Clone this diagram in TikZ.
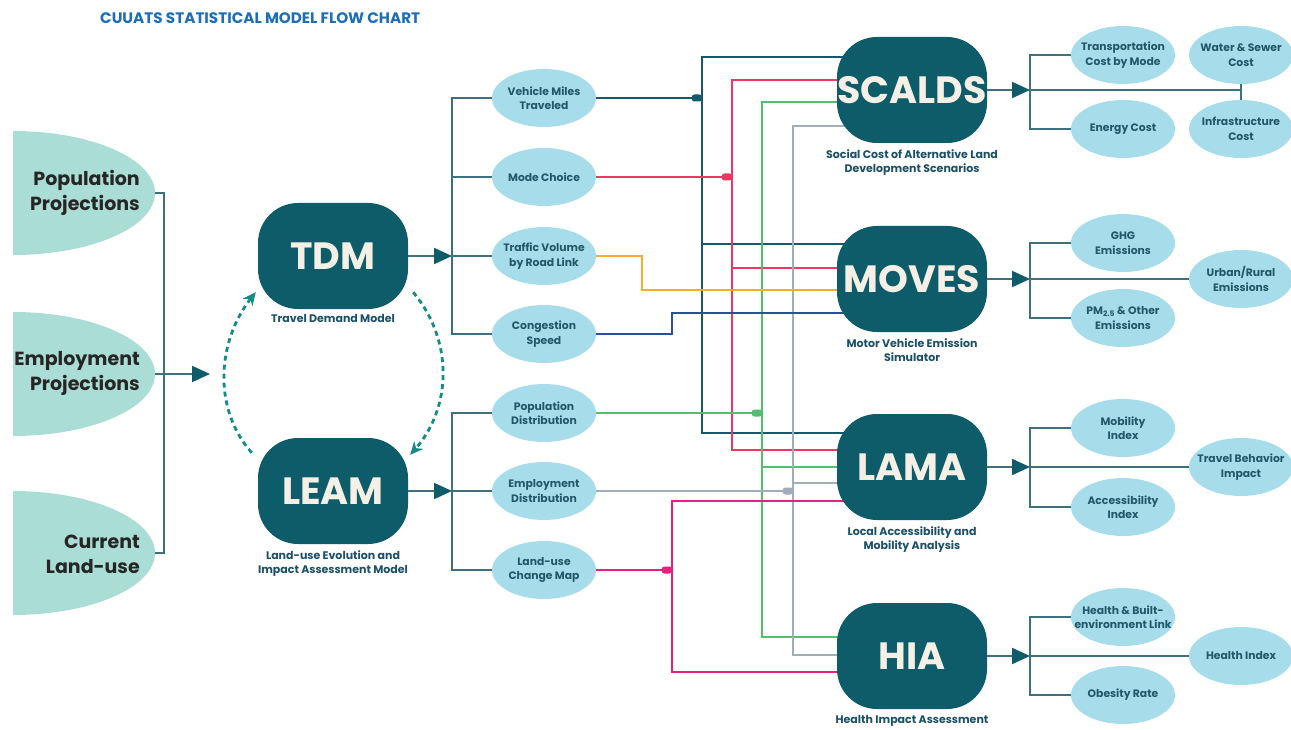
\documentclass[tikz,border=0pt]{standalone}
\usepackage{fontspec}
\setmainfont{Poppins}
\usetikzlibrary{positioning,arrows.meta,shapes.geometric,backgrounds}
\definecolor{boxteal}{RGB}{14,91,105}
\definecolor{boxtext}{RGB}{244,240,229}
\definecolor{captc}{RGB}{28,80,104}
\definecolor{leftfill}{RGB}{170,221,213}
\definecolor{outfill}{RGB}{167,221,235}
\definecolor{outtext}{RGB}{36,88,104}
\definecolor{brc}{RGB}{62,112,126}
\definecolor{vmtc}{RGB}{20,90,106}
\definecolor{modec}{RGB}{236,56,96}
\definecolor{popc}{RGB}{82,190,112}
\definecolor{empc}{RGB}{161,173,184}
\definecolor{tvolc}{RGB}{248,172,44}
\definecolor{congc}{RGB}{42,78,160}
\definecolor{lucc}{RGB}{230,32,130}
\definecolor{loopc}{RGB}{20,140,132}
\definecolor{titlec}{RGB}{30,110,182}

\begin{document}
\begin{tikzpicture}[x=1pt, y=-1pt,
  model/.style={rectangle, rounded corners=40pt, fill=boxteal, text=boxtext,
    minimum width=150pt, minimum height=106pt, inner sep=0pt,
    font=\bfseries\fontsize{38}{38}\selectfont},
  capt/.style={text=captc, align=center, inner sep=0pt,
    font=\bfseries\fontsize{11}{14}\selectfont},
  outp/.style={ellipse, fill=outfill, text=outtext, minimum width=104pt,
    minimum height=58pt, inner xsep=-16pt, inner ysep=0pt, outer sep=0pt,
    align=center, font=\bfseries\fontsize{10.8}{14.5}\selectfont},
  inshape/.style={ellipse, fill=leftfill, minimum width=284pt,
    minimum height=124pt, inner sep=0pt, outer sep=0pt},
  intext/.style={anchor=east, align=right, text={black!85},
    font=\bfseries\fontsize{19}{25}\selectfont, inner sep=0pt},
  brline/.style={draw=brc, line width=2pt},
  outarrow/.style={-{Triangle[length=18pt,width=16pt,color=boxteal]}},
  conn/.style={line width=2.9pt},
  jdot/.style={rectangle, rounded corners=2.5pt, minimum width=10pt,
    minimum height=7pt, inner sep=0pt, anchor=east},
  loopline/.style={draw=loopc, line width=2.8pt, dash pattern=on 5pt off 4pt,
    -{Stealth[length=13pt,width=12pt]}}
]
\useasboundingbox (0,0) rectangle (1291,730);
\node[anchor=west, text=titlec, inner sep=0pt,
  font=\bfseries\fontsize{15.2}{15.2}\selectfont] (title) at (100,18)
  {CUUATS STATISTICAL MODEL FLOW CHART};

% inputs (half ellipses cut at the left)
\begin{scope}
\clip (13,100) rectangle (200,650);
\foreach \n/\y in {popP/193, empP/374, curP/553}
  \node[inshape] (\n) at (13,\y) {};
\end{scope}
\node[intext] (popT) at (140,193) {Population\\Projections};
\node[intext] (empT) at (140,373) {Employment\\Projections};
\node[intext] (curT) at (140,554) {Current\\Land-use};
\coordinate (leftbr) at (164,374);
\coordinate (leftarr) at (210,374);
\draw[brline] (popP.east) -| (leftbr) |- (curP.east);
\draw[brline, outarrow] (empP.east) -- (leftarr);

% TDM / LEAM
\node[model] (tdm) at (333,256) {TDM};
\node[capt, below=5pt of tdm] (tdmcap) {Travel Demand Model};
\node[model] (leam) at (333,491) {LEAM};
\node[capt, below=6pt of leam] (leamcap) {Land-use Evolution and\\Impact Assessment Model};
\draw[loopline] ([xshift=-6pt,yshift=-15pt]leam.north west)
  .. controls +(-40,-45) and +(-38,48) .. ([xshift=-2pt,yshift=17pt]tdm.south west);
\draw[loopline] ([xshift=5pt,yshift=17pt]tdm.south east)
  .. controls +(40,48) and +(42,-48) .. ([xshift=2pt,yshift=-17pt]leam.north east);

% model outputs
\node[outp] (vmt) at (544,98) {Vehicle Miles\\Traveled};
\node[outp] (mode) at (544,177) {Mode Choice};
\node[outp] (tvol) at (544,256) {Traffic Volume\\by Road Link};
\node[outp] (cong) at (544,334) {Congestion\\Speed};
\node[outp] (popd) at (544,413) {Population\\Distribution};
\node[outp] (empd) at (544,491) {Employment\\Distribution};
\node[outp] (luc) at (544,570) {Land-use\\Change Map};
\coordinate (tdmbr) at (452,256);
\coordinate (leambr) at (452,491);
\draw[brline, outarrow] (tdm.east) -- (tdmbr);
\draw[brline] (vmt.west) -| (tdmbr) |- (cong.west);
\draw[brline] (mode.west) -- (mode.west -| tdmbr);
\draw[brline] (tvol.west) -- (tdmbr);
\draw[brline, outarrow] (leam.east) -- (leambr);
\draw[brline] (popd.west) -| (leambr) |- (luc.west);
\draw[brline] (empd.west) -- (leambr);

% scenario models
\node[model] (scalds) at (912,90) {SCALDS};
\node[capt, below=6pt of scalds] (scaldscap) {Social Cost of Alternative Land\\Development Scenarios};
\node[model] (moves) at (912,279) {MOVES};
\node[capt, below=6pt of moves] (movescap) {Motor Vehicle Emission\\Simulator};
\node[model] (lama) at (912,467) {LAMA};
\node[capt, below=6pt of lama] (lamacap) {Local Accessibility and\\Mobility Analysis};
\node[model] (hia) at (912,656) {HIA};
\node[capt, below=6pt of hia] (hiacap) {Health Impact Assessment};

% buses
\coordinate (bvmt) at (702,98);
\coordinate (bmode) at (732,177);
\coordinate (bpop) at (762,413);
\coordinate (bemp) at (793,491);
\coordinate (btvol) at (642,273);
\coordinate (bcong) at (672,323);
\coordinate (bluc) at (672,570);
\begin{scope}[on background layer]
\draw[conn, vmtc] ([yshift=33pt]scalds.center) -| (bvmt) |- ([yshift=34pt]lama.center);
\draw[conn, vmtc] ([yshift=35pt]moves.center) -| (bvmt);
\draw[conn, vmtc] (vmt.east) -- (bvmt);
\draw[conn, modec] ([yshift=10pt]scalds.center) -| (bmode) |- ([yshift=17pt]lama.center);
\draw[conn, modec] ([yshift=11pt]moves.center) -| (bmode);
\draw[conn, modec] (mode.east) -- (bmode);
\draw[conn, popc] ([yshift=-12pt]scalds.center) -| (bpop) |- ([yshift=19pt]hia.center);
\draw[conn, popc] (lama.center) -| (bpop);
\draw[conn, popc] (popd.east) -- (bpop);
\draw[conn, empc] ([yshift=-36pt]scalds.center) -| (bemp) |- ([yshift=1pt]hia.center);
\draw[conn, empc] ([yshift=-16pt]lama.center) -| (bemp);
\draw[conn, empc] (empd.east) -- (bemp);
\draw[conn, tvolc] (tvol.east) -| (btvol) |- ([yshift=-11pt]moves.center);
\draw[conn, congc] (cong.east) -| (bcong) |- ([yshift=-34pt]moves.center);
\draw[conn, lucc] ([yshift=-34pt]lama.center) -| (bluc) |- ([yshift=-16pt]hia.center);
\draw[conn, lucc] (luc.east) -- (bluc);
\end{scope}
\node[jdot, fill=vmtc] (dvmt) at (bvmt) {};
\node[jdot, fill=modec] (dmode) at (bmode) {};
\node[jdot, fill=popc] (dpop) at (bpop) {};
\node[jdot, fill=empc] (demp) at (bemp) {};
\node[jdot, fill=lucc] (dluc) at (bluc) {};

% results
\node[outp] (tcm) at (1123,55) {Transportation\\Cost by Mode};
\node[outp] (ec) at (1123,129) {Energy Cost};
\node[outp] (wsc) at (1241,55) {Water \& Sewer\\Cost};
\node[outp] (isc) at (1241,129) {Infrastructure\\Cost};
\node[outp] (ghg) at (1123,243) {GHG\\Emissions};
\node[outp] (pm) at (1123,318) {PM\textsubscript{2.5} \& Other\\Emissions};
\node[outp] (urb) at (1241,279) {Urban/Rural\\Emissions};
\node[outp] (mob) at (1123,428) {Mobility\\Index};
\node[outp] (acc) at (1123,507) {Accessibility\\Index};
\node[outp] (tbi) at (1241,467) {Travel Behavior\\Impact};
\node[outp] (hbl) at (1123,617) {Health \& Built-\\environment Link};
\node[outp] (obe) at (1123,695) {Obesity Rate};
\node[outp] (hix) at (1241,656) {Health Index};

\coordinate (scbr) at (1030,90);
\coordinate (mvbr) at (1030,279);
\coordinate (lmbr) at (1030,467);
\coordinate (hibr) at (1030,656);
\draw[brline, outarrow] (scalds.east) -- (scbr);
\draw[brline] (tcm.west) -| (scbr) |- (ec.west);
\draw[brline] (scbr) -- (scbr -| wsc.south);
\draw[brline] (wsc.south) -- (isc.north);
\draw[brline, outarrow] (moves.east) -- (mvbr);
\draw[brline] (ghg.west) -| (mvbr) |- (pm.west);
\draw[brline] (mvbr) -- (urb.west);
\draw[brline, outarrow] (lama.east) -- (lmbr);
\draw[brline] (mob.west) -| (lmbr) |- (acc.west);
\draw[brline] (lmbr) -- (tbi.west);
\draw[brline, outarrow] (hia.east) -- (hibr);
\draw[brline] (hbl.west) -| (hibr) |- (obe.west);
\draw[brline] (hibr) -- (hix.west);
\end{tikzpicture}
\end{document}
